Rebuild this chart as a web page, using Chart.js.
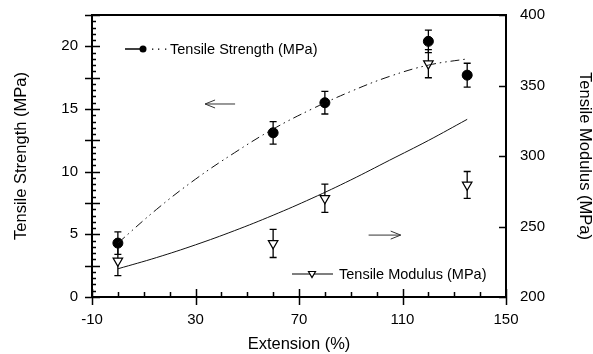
<!DOCTYPE html>
<html>
<head>
<meta charset="utf-8">
<script src="https://cdn.jsdelivr.net/npm/chart.js@4/dist/chart.umd.min.js"></script>
<style>
  html, body { margin: 0; padding: 0; background: #fff; }
  canvas { display: block; }
</style>
</head>
<body>
<canvas id="canvas" width="593" height="354"></canvas>
<script>
const ctx = document.getElementById("canvas");

// measured points (extension %)
const extension = [0, 60, 80, 120, 135];
const strength = [4.3, 13.1, 15.5, 20.4, 17.7];     // MPa, left axis
const strengthErr = [0.9, 0.9, 0.9, 0.9, 0.95];
const modulus = [225.6, 238, 270, 365.5, 279.5];    // MPa, right axis
const modulusErr = [10.5, 10, 10, 10, 9.5];

// fitted curves
const fitX = [0, 15, 30, 45, 60, 75, 90, 105, 120, 135];
const strengthFit = [4.3, 7.0, 9.4, 11.5, 13.4, 15.0, 16.4, 17.6, 18.5, 19.0];
const modulusFit = [220, 228, 237, 247, 258, 270, 283, 297, 311, 326];

// axis ticks
const xTicks = [-10, 30, 70, 110, 150];
const yTicks = [0, 5, 10, 15, 20];
const y2Ticks = [200, 250, 300, 350, 400];

// arrows (data units on left axis): [xFrom, xTo, y]
const arrowLeft = [45.3, 33.7, 15.4];
const arrowRight = [96.9, 109.3, 4.94];

const FONT = "'Liberation Sans', Arial, sans-serif";

function pairs(xs, ys) {
  return xs.map((x, i) => ({ x: x, y: ys[i] }));
}

function setTicks(list) {
  return (scale) => {
    scale.ticks = list.map((v) => ({ value: v }));
  };
}

// invisible tick marks only used to push the labels away from the axis
function spacer(len) {
  return { display: true, drawOnChartArea: false, drawTicks: true, tickLength: len, color: "rgba(0,0,0,0)" };
}

const frame = {
  id: "frame",
  beforeDatasetsDraw(chart) {
    const { ctx, chartArea: a, scales } = chart;
    ctx.save();
    ctx.strokeStyle = "#000";
    ctx.lineWidth = 2;
    ctx.strokeRect(a.left, a.top, a.right - a.left, a.bottom - a.top);

    ctx.lineWidth = 1.5;
    ctx.beginPath();
    // x axis
    for (let v = -10; v <= 150; v += 10) {
      const px = Math.round(scales.x.getPixelForValue(v)) + 0.5;
      if (xTicks.includes(v)) {
        ctx.moveTo(px, a.bottom - 8);
        ctx.lineTo(px, a.bottom + 8);
      } else {
        ctx.moveTo(px, a.bottom - 5);
        ctx.lineTo(px, a.bottom);
      }
    }
    // left axis
    for (let v = 0; v <= 22.5; v += 0.5) {
      const py = Math.round(scales.y.getPixelForValue(v)) + 0.5;
      if (v % 2.5 === 0) {
        ctx.moveTo(a.left - 7, py);
        ctx.lineTo(a.left + 8, py);
      } else {
        ctx.moveTo(a.left, py);
        ctx.lineTo(a.left + 4, py);
      }
    }
    // right axis
    y2Ticks.forEach((v) => {
      const py = Math.round(scales.y2.getPixelForValue(v)) + 0.5;
      ctx.moveTo(a.right - 7, py);
      ctx.lineTo(a.right, py);
    });
    ctx.stroke();

    // error bars
    ctx.lineWidth = 1.3;
    const bars = (ys, errs, scale) => {
      extension.forEach((x, i) => {
        const px = scales.x.getPixelForValue(x);
        const top = scale.getPixelForValue(ys[i] + errs[i]);
        const bot = scale.getPixelForValue(ys[i] - errs[i]);
        ctx.beginPath();
        ctx.moveTo(px, top);
        ctx.lineTo(px, bot);
        ctx.moveTo(px - 3.5, top);
        ctx.lineTo(px + 3.5, top);
        ctx.moveTo(px - 3.5, bot);
        ctx.lineTo(px + 3.5, bot);
        ctx.stroke();
      });
    };
    bars(strength, strengthErr, scales.y);
    bars(modulus, modulusErr, scales.y2);
    ctx.restore();
  },
  afterDraw(chart) {
    const { ctx, chartArea: a, scales } = chart;
    ctx.save();
    ctx.strokeStyle = "#000";
    ctx.fillStyle = "#000";

    // arrows
    const arrow = ([x0, x1, y]) => {
      const p0 = scales.x.getPixelForValue(x0);
      const p1 = scales.x.getPixelForValue(x1);
      const py = scales.y.getPixelForValue(y);
      const d = p1 > p0 ? -1 : 1;
      ctx.lineWidth = 1;
      ctx.beginPath();
      ctx.moveTo(p0, py);
      ctx.lineTo(p1, py);
      ctx.moveTo(p1 + d * 10, py - 4);
      ctx.lineTo(p1, py);
      ctx.lineTo(p1 + d * 10, py + 4);
      ctx.stroke();
    };
    ctx.strokeStyle = "#333";
    arrow(arrowLeft);
    arrow(arrowRight);

    // legends
    ctx.strokeStyle = "#000";
    ctx.font = "14.5px " + FONT;
    ctx.textBaseline = "middle";
    let ly = a.top + 34;
    ctx.lineWidth = 1.5;
    ctx.beginPath();
    ctx.moveTo(a.left + 33, ly);
    ctx.lineTo(a.left + 49, ly);
    ctx.stroke();
    ctx.beginPath();
    ctx.arc(a.left + 51, ly, 3.5, 0, Math.PI * 2);
    ctx.fill();
    [60, 66, 73].forEach((dx) => ctx.fillRect(a.left + dx, ly - 0.5, 1.3, 1.3));
    ctx.fillText("Tensile Strength (MPa)", a.left + 78, ly + 1);

    ly = a.bottom - 23;
    ctx.lineWidth = 1.2;
    ctx.beginPath();
    ctx.moveTo(292, ly);
    ctx.lineTo(333, ly);
    ctx.stroke();
    ctx.fillStyle = "#fff";
    ctx.beginPath();
    ctx.moveTo(308.5, ly - 2.5);
    ctx.lineTo(315.5, ly - 2.5);
    ctx.lineTo(312, ly + 3.5);
    ctx.closePath();
    ctx.fill();
    ctx.stroke();
    ctx.fillStyle = "#000";
    ctx.fillText("Tensile Modulus (MPa)", 339, ly + 1);
    ctx.restore();
  },
};

const tickFont = { family: FONT, size: 15 };
const titleFont = { family: FONT, size: 16.5, lineHeight: 1 };

const config = {
  type: "scatter",
  data: {
    datasets: [
      {
        label: "Tensile Strength fit",
        data: pairs(fitX, strengthFit),
        yAxisID: "y",
        showLine: true,
        borderColor: "#111",
        borderWidth: 1,
        borderDash: [9, 4, 1.5, 4, 1.5, 4],
        pointRadius: 0,
        tension: 0.4,
      },
      {
        label: "Tensile Modulus fit",
        data: pairs(fitX, modulusFit),
        yAxisID: "y2",
        showLine: true,
        borderColor: "#111",
        borderWidth: 1,
        pointRadius: 0,
        tension: 0.4,
      },
      {
        label: "Tensile Strength (MPa)",
        data: pairs(extension, strength),
        yAxisID: "y",
        pointStyle: "circle",
        pointRadius: 5,
        backgroundColor: "#000",
        borderColor: "#000",
      },
      {
        label: "Tensile Modulus (MPa)",
        data: pairs(extension, modulus),
        yAxisID: "y2",
        pointStyle: "triangle",
        rotation: 180,
        pointRadius: 5.5,
        borderWidth: 1.2,
        backgroundColor: "#fff",
        borderColor: "#000",
      },
    ],
  },
  plugins: [frame],
  options: {
    responsive: false,
    animation: false,
    devicePixelRatio: 1,
    layout: { padding: { top: 15, left: 0, right: 0, bottom: 0 } },
    plugins: {
      legend: { display: false },
      tooltip: { enabled: false },
    },
    scales: {
      x: {
        type: "linear",
        min: -10,
        max: 150,
        afterBuildTicks: setTicks(xTicks),
        afterFit: (s) => { s.height = 57; },
        grid: spacer(14),
        border: { display: false },
        ticks: { autoSkip: false, padding: 0, color: "#000", font: tickFont, maxRotation: 0 },
        title: {
          display: true,
          text: "Extension (%)",
          color: "#000",
          font: titleFont,
          padding: { top: 0, bottom: 1.5 },
        },
      },
      y: {
        type: "linear",
        position: "left",
        min: 0,
        max: 22.5,
        afterBuildTicks: setTicks(yTicks),
        afterFit: (s) => { s.width = 92; },
        grid: spacer(14),
        border: { display: false },
        ticks: { autoSkip: false, padding: 0, color: "#000", font: tickFont },
        title: {
          display: true,
          text: "Tensile Strength (MPa)",
          color: "#000",
          font: titleFont,
          padding: { top: 13, bottom: 0 },
        },
      },
      y2: {
        type: "linear",
        position: "right",
        min: 200,
        max: 400,
        afterBuildTicks: setTicks(y2Ticks),
        afterFit: (s) => { s.width = 87; },
        grid: spacer(14),
        border: { display: false },
        ticks: { autoSkip: false, padding: 0, color: "#000", font: tickFont },
        title: {
          display: true,
          text: "Tensile Modulus (MPa)",
          color: "#000",
          font: titleFont,
          padding: { top: 0, bottom: 0 },
        },
      },
    },
  },
};

new Chart(ctx, config);
</script>
</body>
</html>
